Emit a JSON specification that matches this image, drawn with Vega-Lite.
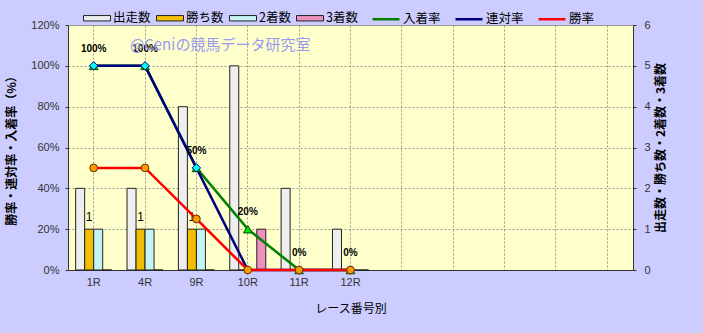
{
  "$schema": "https://vega.github.io/schema/vega-lite/v6.json",
  "autosize": "none",
  "width": 565,
  "height": 245,
  "padding": {"left": 68, "top": 25, "right": 70, "bottom": 63},
  "background": "#CCCCFF",
  "config": {
    "view": {"fill": "#FFFFCC", "stroke": "#999999"},
    "axis": {
      "labelFont": "Liberation Sans",
      "labelFontSize": 11,
      "labelColor": "#333333",
      "titleFont": "Noto Sans CJK JP",
      "titleFontSize": 12,
      "titleFontWeight": "normal",
      "titleColor": "#000000",
      "domainColor": "#333333",
      "tickColor": "#333333"
    }
  },
  "datasets": {
    "counts": [
      {"race": "1R", "type": "出走数", "count": 2},
      {"race": "1R", "type": "勝ち数", "count": 1},
      {"race": "1R", "type": "2着数", "count": 1},
      {"race": "1R", "type": "3着数", "count": 0},
      {"race": "4R", "type": "出走数", "count": 2},
      {"race": "4R", "type": "勝ち数", "count": 1},
      {"race": "4R", "type": "2着数", "count": 1},
      {"race": "4R", "type": "3着数", "count": 0},
      {"race": "9R", "type": "出走数", "count": 4},
      {"race": "9R", "type": "勝ち数", "count": 1},
      {"race": "9R", "type": "2着数", "count": 1},
      {"race": "9R", "type": "3着数", "count": 0},
      {"race": "10R", "type": "出走数", "count": 5},
      {"race": "10R", "type": "勝ち数", "count": 0},
      {"race": "10R", "type": "2着数", "count": 0},
      {"race": "10R", "type": "3着数", "count": 1},
      {"race": "11R", "type": "出走数", "count": 2},
      {"race": "11R", "type": "勝ち数", "count": 0},
      {"race": "11R", "type": "2着数", "count": 0},
      {"race": "11R", "type": "3着数", "count": 0},
      {"race": "12R", "type": "出走数", "count": 1},
      {"race": "12R", "type": "勝ち数", "count": 0},
      {"race": "12R", "type": "2着数", "count": 0},
      {"race": "12R", "type": "3着数", "count": 0}
    ],
    "rates": [
      {"race": "1R", "series": "入着率", "rate": 1.0},
      {"race": "4R", "series": "入着率", "rate": 1.0},
      {"race": "9R", "series": "入着率", "rate": 0.5},
      {"race": "10R", "series": "入着率", "rate": 0.2},
      {"race": "11R", "series": "入着率", "rate": 0},
      {"race": "12R", "series": "入着率", "rate": 0},
      {"race": "1R", "series": "連対率", "rate": 1.0},
      {"race": "4R", "series": "連対率", "rate": 1.0},
      {"race": "9R", "series": "連対率", "rate": 0.5},
      {"race": "10R", "series": "連対率", "rate": 0},
      {"race": "11R", "series": "連対率", "rate": 0},
      {"race": "12R", "series": "連対率", "rate": 0},
      {"race": "1R", "series": "勝率", "rate": 0.5},
      {"race": "4R", "series": "勝率", "rate": 0.5},
      {"race": "9R", "series": "勝率", "rate": 0.25},
      {"race": "10R", "series": "勝率", "rate": 0},
      {"race": "11R", "series": "勝率", "rate": 0},
      {"race": "12R", "series": "勝率", "rate": 0}
    ],
    "watermark": [{"text": "@Ceniの競馬データ研究室"}]
  },
  "layer": [
    {
      "data": {"name": "counts"},
      "mark": {"type": "bar", "stroke": "#222222", "strokeWidth": 1},
      "encoding": {
        "x": {
          "field": "race",
          "type": "nominal",
          "scale": {
            "domain": ["1R", "4R", "9R", "10R", "11R", "12R", " ", "  ", "   ", "    ", "     "],
            "paddingInner": 0,
            "paddingOuter": 0
          },
          "axis": {
            "title": "レース番号別",
            "titlePadding": 16,
            "labelAngle": 0,
            "labelPadding": 6,
            "ticks": false,
            "grid": true,
            "gridColor": "#999999",
            "gridDash": [2, 2]
          }
        },
        "y": {
          "field": "count",
          "type": "quantitative",
          "scale": {"domain": [0, 6], "nice": false},
          "axis": {
            "orient": "right",
            "title": "出走数・勝ち数・2着数・3着数",
            "titleAngle": 270,
            "titleFontWeight": "bold",
            "titlePadding": 17,
            "values": [0, 1, 2, 3, 4, 5, 6],
            "grid": false,
            "tickSize": 3,
            "labelPadding": 8
          }
        },
        "xOffset": {
          "field": "type",
          "type": "nominal",
          "scale": {"domain": ["出走数", "勝ち数", "2着数", "3着数"], "paddingInner": 0, "paddingOuter": 0.85}
        },
        "fill": {
          "field": "type",
          "type": "nominal",
          "scale": {
            "domain": ["出走数", "勝ち数", "2着数", "3着数"],
            "range": ["#EEEEEE", "#F2BE00", "#C6F4F4", "#EE90BE"]
          },
          "legend": {
            "title": null,
            "orient": "none",
            "legendX": 15,
            "legendY": -21,
            "direction": "horizontal",
            "symbolType": "M-1,-0.2H1V0.2H-1Z",
            "symbolSize": 729,
            "symbolStrokeColor": "#222222",
            "symbolStrokeWidth": 1,
            "labelFont": "Noto Sans CJK JP",
            "labelFontSize": 12.5,
            "labelColor": "#000000",
            "labelOffset": 2,
            "columnPadding": 3
          }
        }
      }
    },
    {
      "data": {"name": "counts"},
      "transform": [{"filter": "datum.type == '勝ち数' && datum.count > 0"}],
      "mark": {"type": "text", "dy": -12, "font": "Liberation Sans", "fontSize": 12, "color": "#000000"},
      "encoding": {
        "x": {"field": "race", "type": "nominal"},
        "xOffset": {"field": "type", "type": "nominal"},
        "y": {"field": "count", "type": "quantitative", "scale": {"domain": [0, 6], "nice": false}, "axis": null},
        "text": {"field": "count", "type": "quantitative"}
      }
    },
    {
      "data": {"name": "rates"},
      "mark": {"type": "line", "strokeWidth": 2.5},
      "encoding": {
        "x": {"field": "race", "type": "nominal"},
        "y": {
          "field": "rate",
          "type": "quantitative",
          "scale": {"domain": [0, 1.2], "nice": false},
          "axis": {
            "orient": "left",
            "title": "勝率・連対率・入着率（%）",
            "titleFontWeight": "bold",
            "titlePadding": 12,
            "values": [0, 0.2, 0.4, 0.6, 0.8, 1.0, 1.2],
            "format": ".0%",
            "grid": true,
            "gridColor": "#999999",
            "gridDash": [2, 2],
            "tickSize": 3,
            "labelPadding": 6
          }
        },
        "stroke": {
          "field": "series",
          "type": "nominal",
          "scale": {"domain": ["入着率", "連対率", "勝率"], "range": ["#008000", "#000080", "#FF0000"]},
          "legend": {
            "title": null,
            "orient": "none",
            "legendX": 303,
            "legendY": -21,
            "direction": "horizontal",
            "symbolType": "stroke",
            "symbolSize": 729,
            "symbolStrokeWidth": 2.5,
            "labelFont": "Noto Sans CJK JP",
            "labelFontSize": 12.5,
            "labelColor": "#000000",
            "labelOffset": 2,
            "columnPadding": 9
          }
        }
      }
    },
    {
      "data": {"name": "rates"},
      "transform": [{"filter": "datum.series == '入着率'"}],
      "mark": {"type": "point", "shape": "triangle-up", "size": 75, "filled": true, "fill": "#00DD00", "stroke": "#005500", "strokeWidth": 1, "opacity": 1},
      "encoding": {
        "x": {"field": "race", "type": "nominal"},
        "y": {"field": "rate", "type": "quantitative", "scale": {"domain": [0, 1.2], "nice": false}, "axis": null}
      }
    },
    {
      "data": {"name": "rates"},
      "transform": [{"filter": "datum.series == '連対率'"}],
      "mark": {"type": "point", "shape": "diamond", "size": 70, "filled": true, "fill": "#00FFFF", "stroke": "#000080", "strokeWidth": 1, "opacity": 1},
      "encoding": {
        "x": {"field": "race", "type": "nominal"},
        "y": {"field": "rate", "type": "quantitative", "scale": {"domain": [0, 1.2], "nice": false}, "axis": null}
      }
    },
    {
      "data": {"name": "rates"},
      "transform": [{"filter": "datum.series == '勝率'"}],
      "mark": {"type": "point", "shape": "circle", "size": 60, "filled": true, "fill": "#FF9900", "stroke": "#663300", "strokeWidth": 1, "opacity": 1},
      "encoding": {
        "x": {"field": "race", "type": "nominal"},
        "y": {"field": "rate", "type": "quantitative", "scale": {"domain": [0, 1.2], "nice": false}, "axis": null}
      }
    },
    {
      "data": {"name": "rates"},
      "transform": [{"filter": "datum.series == '入着率'"}],
      "mark": {"type": "text", "dy": -17, "font": "Liberation Sans", "fontSize": 10, "fontWeight": "bold", "color": "#000000"},
      "encoding": {
        "x": {"field": "race", "type": "nominal"},
        "y": {"field": "rate", "type": "quantitative", "scale": {"domain": [0, 1.2], "nice": false}, "axis": null},
        "text": {"field": "rate", "type": "quantitative", "format": ".0%"}
      }
    },
    {
      "data": {"name": "watermark"},
      "mark": {"type": "text", "align": "left", "baseline": "middle", "dx": -15, "font": "Noto Sans CJK JP", "fontSize": 15, "color": "#9A9AF0"},
      "encoding": {
        "x": {"datum": "4R"},
        "y": {"datum": 1.1, "scale": {"domain": [0, 1.2], "nice": false}, "axis": null},
        "text": {"field": "text", "type": "nominal"}
      }
    }
  ],
  "resolve": {"scale": {"y": "independent"}}
}
